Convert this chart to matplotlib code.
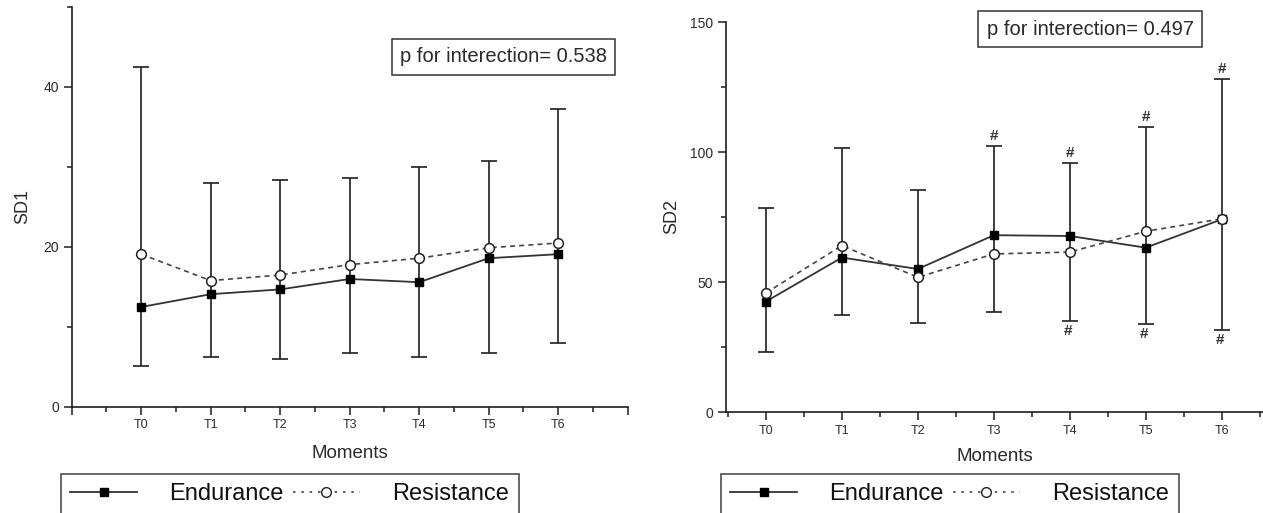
import matplotlib
matplotlib.use("Agg")
import matplotlib.pyplot as plt
from matplotlib.lines import Line2D
from matplotlib.ticker import FixedLocator
import numpy as np

plt.rcParams['font.family'] = ['Liberation Sans', 'DejaVu Sans']

moments = ['T0', 'T1', 'T2', 'T3', 'T4', 'T5', 'T6']

# SD1 panel
sd1_endurance = [12.5, 14.1, 14.7, 16.0, 15.6, 18.6, 19.1]
sd1_resistance = [19.1, 15.8, 16.5, 17.8, 18.6, 19.9, 20.5]
sd1_err_top = [42.5, 28.0, 28.4, 28.6, 30.0, 30.8, 37.2]
sd1_err_bottom = [5.1, 6.2, 6.0, 6.8, 6.2, 6.7, 8.0]
sd1_p = "p for interection= 0.538"

# SD2 panel
sd2_endurance = [42.5, 59.4, 55.0, 68.0, 67.7, 63.2, 74.1]
sd2_resistance = [45.8, 64.0, 51.8, 60.8, 61.5, 69.5, 74.3]
sd2_err_top = [78.5, 101.5, 85.2, 102.5, 95.8, 109.7, 128.0]
sd2_err_bottom = [23.2, 37.5, 34.2, 38.4, 35.1, 33.8, 31.6]
sd2_p = "p for interection= 0.497"
sd2_hash_top = [3, 4, 5, 6]
sd2_hash_bottom = [4, 5, 6]

W, H = 1263, 513
fig = plt.figure(figsize=(W / 100, H / 100), dpi=100)

DARK = '#1e1e1e'
TXT = '#2a2a2a'


def px_axes(l, r, b, t):
    return fig.add_axes([l / W, 1 - b / H, (r - l) / W, (b - t) / H])


def draw_panel(ax, endv, resv, top, bot, ylabel, ylim, yticks, yminor, xlim, xmajor, xminor,
               ylabelpad, xlabelpad):
    x = np.arange(len(moments))
    endv = np.array(endv); resv = np.array(resv)
    top = np.array(top); bot = np.array(bot)
    ax.errorbar(x, bot, yerr=[np.zeros_like(bot), top - bot], fmt='none',
                ecolor=DARK, elinewidth=1.2, capsize=6, capthick=1.2, zorder=2)
    ax.plot(x, endv, '-', color='#333333', lw=1.3, marker='s', ms=5.8,
            mfc='black', mec='black', zorder=4)
    ax.plot(x, resv, linestyle=(0, (3, 2.5)), color='#444444', lw=1.2, marker='o', ms=7,
            mfc='white', mec='#222222', mew=1.1, zorder=5)
    ax.set_xlim(*xlim)
    ax.set_ylim(*ylim)
    ax.spines['top'].set_visible(False)
    ax.spines['right'].set_visible(False)
    for s in ('left', 'bottom'):
        ax.spines[s].set_color(DARK)
        ax.spines[s].set_linewidth(1.2)
    ax.xaxis.set_major_locator(FixedLocator(xmajor))
    ax.set_xticklabels([moments[int(v)] if 0 <= v <= 6 else '' for v in xmajor])
    ax.xaxis.set_minor_locator(FixedLocator(xminor))
    ax.set_yticks(yticks)
    ax.yaxis.set_minor_locator(FixedLocator(yminor))
    ax.tick_params(axis='both', which='major', direction='out', length=6, width=1.1,
                   color=DARK, labelcolor=TXT)
    ax.tick_params(axis='both', which='minor', direction='out', length=3.5, width=1.1, color=DARK)
    ax.tick_params(axis='x', which='major', labelsize=9, pad=3)
    ax.tick_params(axis='y', which='major', labelsize=10, pad=3)
    ax.set_xlabel('Moments', fontsize=13.5, color=TXT, labelpad=xlabelpad)
    ax.set_ylabel(ylabel, fontsize=13, color=TXT, labelpad=ylabelpad)


ax1 = px_axes(71.7, 627.7, 407, 7)
draw_panel(ax1, sd1_endurance, sd1_resistance, sd1_err_top, sd1_err_bottom, 'SD1',
           (0, 50), [0, 20, 40], [10, 30, 50], (-1, 7),
           list(range(-1, 8)), [v + 0.5 for v in range(-1, 7)], 9, 10)
ax1.text(0.7766, 0.876, sd1_p, transform=ax1.transAxes, ha='center', va='center',
         fontsize=14.5, color=TXT,
         bbox=dict(boxstyle='square,pad=0.42', fc='white', ec='#333333', lw=1.1))

ax2 = px_axes(725.7, 1263.5, 412, 22)
draw_panel(ax2, sd2_endurance, sd2_resistance, sd2_err_top, sd2_err_bottom, 'SD2',
           (0, 150), [0, 50, 100, 150], [25, 75, 125], (-0.53, 6.55),
           list(range(0, 7)), [v + 0.5 for v in range(-1, 7)], 7, 8)
ax2.text(0.678, 0.981, sd2_p, transform=ax2.transAxes, ha='center', va='center',
         fontsize=14.5, color=TXT,
         bbox=dict(boxstyle='square,pad=0.42', fc='white', ec='#333333', lw=1.1))
for i in sd2_hash_top:
    ax2.annotate('#', xy=(i, sd2_err_top[i]), xytext=(0, 2), textcoords='offset points',
                 ha='center', va='bottom', fontsize=11, fontweight='bold', color='#333333')
for i in sd2_hash_bottom:
    ax2.annotate('#', xy=(i, sd2_err_bottom[i]), xytext=(-1, -2), textcoords='offset points',
                 ha='center', va='top', fontsize=11, fontweight='bold', color='#333333')

handles = [
    Line2D([], [], color='#333333', lw=1.3, marker='s', ms=6, mfc='black', mec='black'),
    Line2D([], [], color='#444444', lw=1.2, linestyle=(0, (1.5, 3.5)), marker='o', ms=7,
           mfc='white', mec='#222222'),
]
labels = ['Endurance', 'Resistance']
for lx in (61, 721):
    leg = fig.legend(handles, labels, loc='upper left', bbox_to_anchor=(lx / W, 1 - 474 / H),
                     borderaxespad=0, ncol=2, fontsize=17, frameon=True, fancybox=False,
                     edgecolor='#222222', handlelength=2.8, handletextpad=1.4,
                     columnspacing=0.4, borderpad=0.4)
    leg.get_frame().set_linewidth(1.2)
    for t in leg.get_texts():
        t.set_color('#111111')

fig.savefig('out.png', dpi=100)
